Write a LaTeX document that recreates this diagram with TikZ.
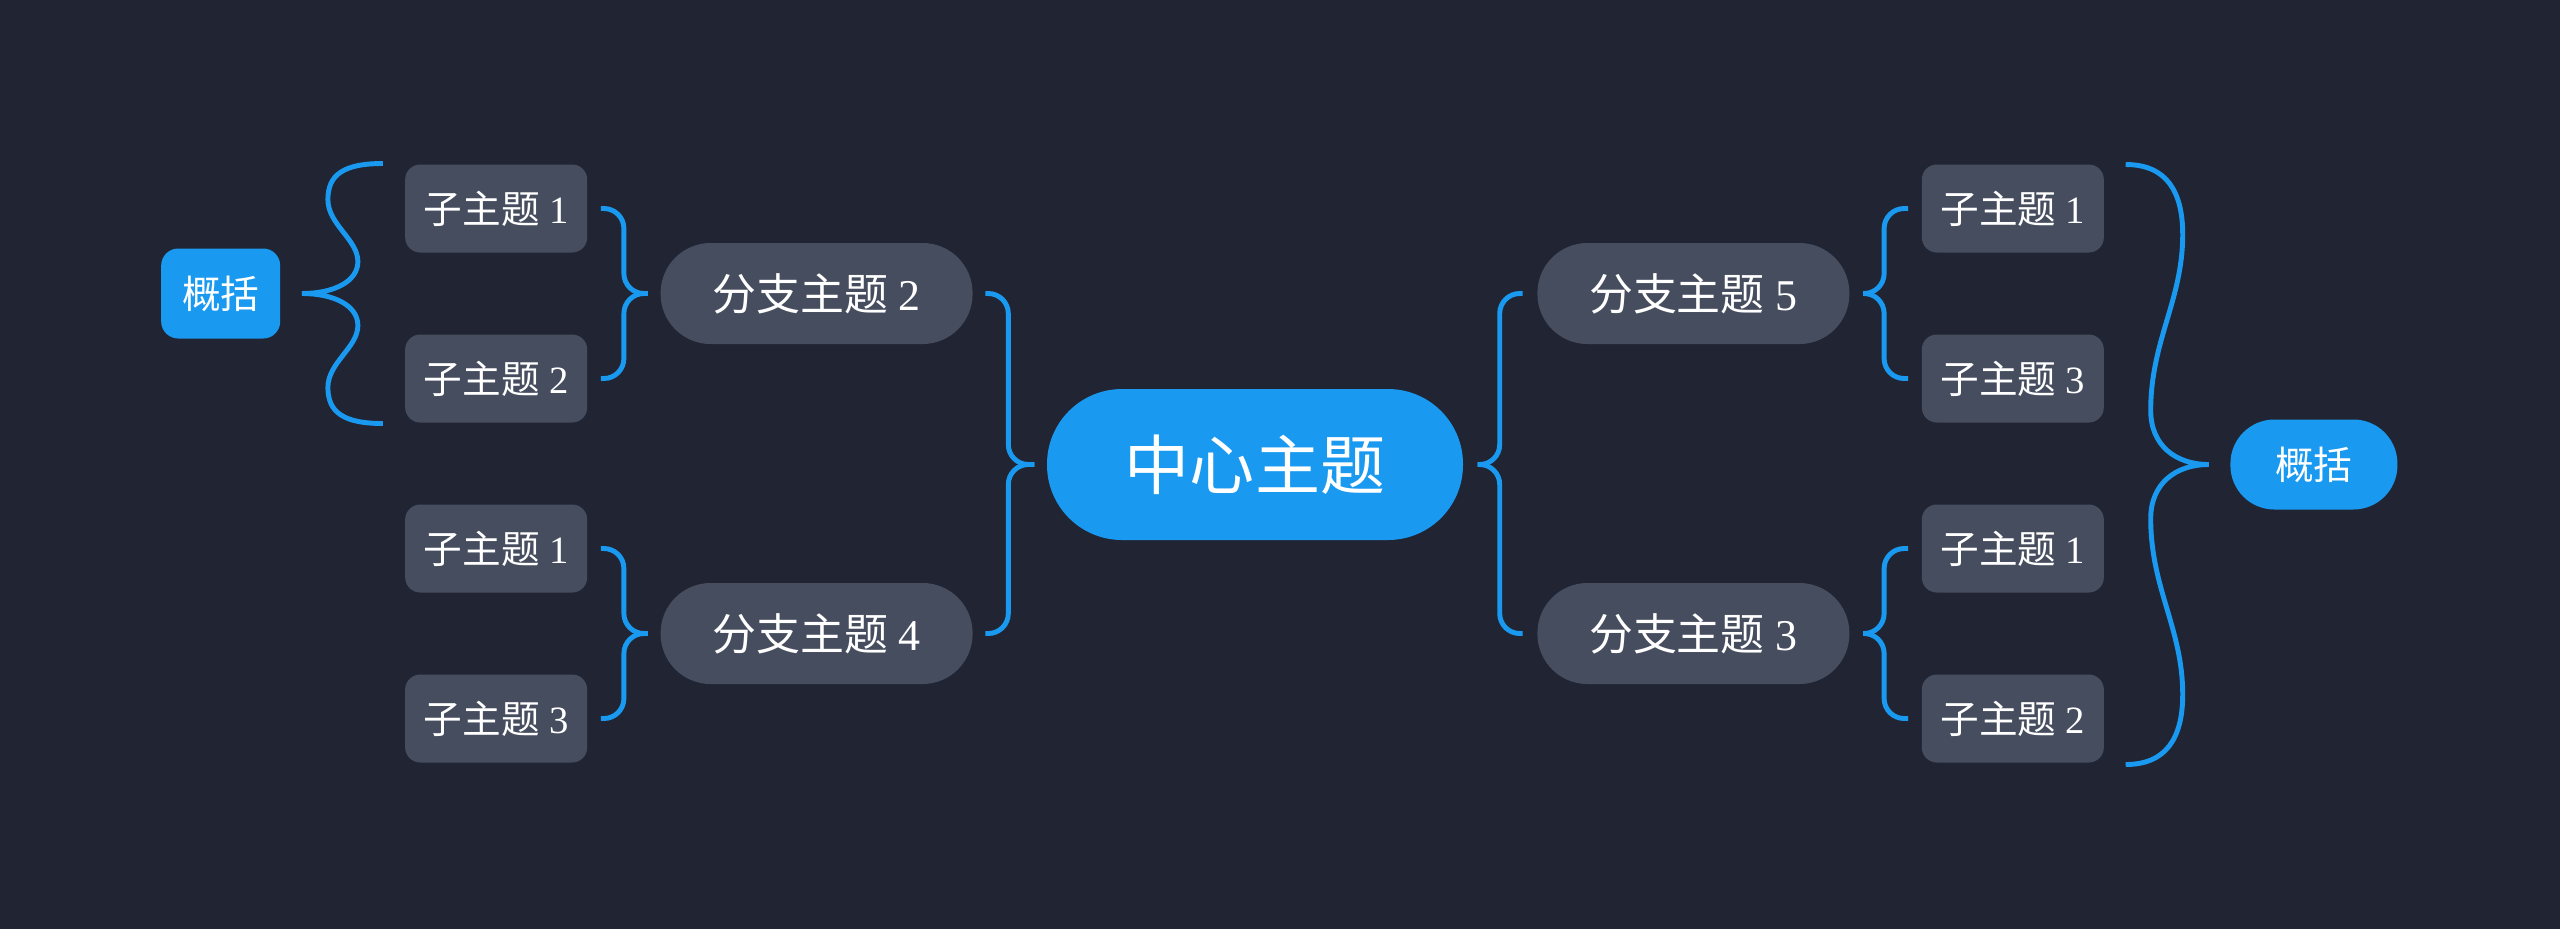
\documentclass[tikz,border=0pt]{standalone}
\usepackage{fontspec}
\setmainfont{Liberation Serif}
\newfontfamily\cjk{Noto Sans CJK SC}
\usepackage{tikz}
\usetikzlibrary{positioning, calc}
\definecolor{cBg}{RGB}{33,37,51}
\definecolor{cBlue}{RGB}{26,153,240}
\definecolor{cTopic}{RGB}{70,77,94}
\tikzset{
	central/.style ={rectangle, rounded corners=0.75cm, minimum width=4.16cm, minimum height=1.51cm, inner sep=0pt, fill=cBlue, text=white, font=\fontsize{18.5}{22}\selectfont\cjk},
	branch/.style  ={rectangle, rounded corners=0.5cm, minimum width=3.12cm, minimum height=1.01cm, inner sep=0pt, fill=cTopic, text=white, font=\fontsize{12.5}{15}\selectfont},
	subtopic/.style={rectangle, rounded corners=0.15cm, minimum width=1.82cm, minimum height=0.88cm, inner sep=0pt, fill=cTopic, text=white, font=\fontsize{11}{13}\selectfont},
	summary/.style ={rectangle, minimum height=0.9cm, inner sep=0pt, fill=cBlue, text=white, font=\fontsize{11}{13}\selectfont\cjk},
	% brace connectors
	brace/.style   ={draw=cBlue, line width=1.4pt, rounded corners=0.2cm},
	bigbrace/.style={draw=cBlue, line width=1.4pt},
}
\begin{document}
\begin{tikzpicture}
	\fill[cBg] (0,0) rectangle (25.6,-9.29);
	\node[central] (ctr) at (12.55,-4.645) {中心主题};
	% branches
	\node[branch, left=0.73cm of ctr, yshift=1.71cm] (b2) {{\cjk 分支主题} 2};
	\node[branch, left=0.73cm of ctr, yshift=-1.69cm] (b4) {{\cjk 分支主题} 4};
	\node[branch, right=0.73cm of ctr, yshift=1.71cm] (b5) {{\cjk 分支主题} 5};
	\node[branch, right=0.73cm of ctr, yshift=-1.69cm] (b3) {{\cjk 分支主题} 3};
	% subtopics
	\node[subtopic, left=0.72cm of b2, yshift=0.85cm] (s21) {{\cjk 子主题} 1};
	\node[subtopic, left=0.72cm of b2, yshift=-0.85cm] (s22) {{\cjk 子主题} 2};
	\node[subtopic, left=0.72cm of b4, yshift=0.85cm] (s41) {{\cjk 子主题} 1};
	\node[subtopic, left=0.72cm of b4, yshift=-0.85cm] (s43) {{\cjk 子主题} 3};
	\node[subtopic, right=0.71cm of b5, yshift=0.85cm] (s51) {{\cjk 子主题} 1};
	\node[subtopic, right=0.71cm of b5, yshift=-0.85cm] (s53) {{\cjk 子主题} 3};
	\node[subtopic, right=0.71cm of b3, yshift=0.85cm] (s31) {{\cjk 子主题} 1};
	\node[subtopic, right=0.71cm of b3, yshift=-0.85cm] (s32) {{\cjk 子主题} 2};
	% summaries
	\node[summary, rounded corners=0.17cm, minimum width=1.19cm, left=3.79cm of b2] (lsum) {概括};
	\node[summary, rounded corners=0.44cm, minimum width=1.67cm, right=7.66cm of ctr] (rsum) {概括};

	% center -> branches
	\draw[brace] ($(ctr.west)+(-0.12,0)$) -| ($(b2.east)+(0.35,0)$) -- ($(b2.east)+(0.12,0)$);
	\draw[brace] ($(ctr.west)+(-0.12,0)$) -| ($(b4.east)+(0.35,0)$) -- ($(b4.east)+(0.12,0)$);
	\draw[brace] ($(ctr.east)+(0.14,0)$) -| ($(b5.west)+(-0.37,0)$) -- ($(b5.west)+(-0.14,0)$);
	\draw[brace] ($(ctr.east)+(0.14,0)$) -| ($(b3.west)+(-0.37,0)$) -- ($(b3.west)+(-0.14,0)$);
	% branches -> subtopics
	\draw[brace] ($(b2.west)+(-0.12,0)$) -| ($(s21.east)+(0.36,0)$) -- ($(s21.east)+(0.13,0)$);
	\draw[brace] ($(b2.west)+(-0.12,0)$) -| ($(s22.east)+(0.36,0)$) -- ($(s22.east)+(0.13,0)$);
	\draw[brace] ($(b4.west)+(-0.12,0)$) -| ($(s41.east)+(0.36,0)$) -- ($(s41.east)+(0.13,0)$);
	\draw[brace] ($(b4.west)+(-0.12,0)$) -| ($(s43.east)+(0.36,0)$) -- ($(s43.east)+(0.13,0)$);
	\draw[brace] ($(b5.east)+(0.13,0)$) -| ($(s51.west)+(-0.37,0)$) -- ($(s51.west)+(-0.13,0)$);
	\draw[brace] ($(b5.east)+(0.13,0)$) -| ($(s53.west)+(-0.37,0)$) -- ($(s53.west)+(-0.13,0)$);
	\draw[brace] ($(b3.east)+(0.13,0)$) -| ($(s31.west)+(-0.37,0)$) -- ($(s31.west)+(-0.13,0)$);
	\draw[brace] ($(b3.east)+(0.13,0)$) -| ($(s32.west)+(-0.37,0)$) -- ($(s32.west)+(-0.13,0)$);

	% summary braces
	\coordinate (lt) at ($(lsum.east)+(0.21,0)$);
	\draw[bigbrace, shift={(lt)}] (0.81,1.30) .. controls (0.42,1.30) and (0.26,1.19) .. (0.26,0.94)
		.. controls (0.26,0.69) and (0.56,0.54) .. (0.56,0.32) .. controls (0.56,0.12) and (0.32,0) .. (0,0)
		.. controls (0.32,0) and (0.56,-0.12) .. (0.56,-0.32) .. controls (0.56,-0.54) and (0.26,-0.69) .. (0.26,-0.94)
		.. controls (0.26,-1.19) and (0.42,-1.30) .. (0.81,-1.30);
	\coordinate (rt) at ($(rsum.west)+(-0.21,0)$);
	\draw[bigbrace, shift={(rt)}] (-0.83,3.00) .. controls (-0.43,3.00) and (-0.26,2.74) .. (-0.26,2.30)
		.. controls (-0.26,1.64) and (-0.58,1.24) .. (-0.58,0.54) .. controls (-0.58,0.19) and (-0.33,0) .. (0,0)
		.. controls (-0.33,0) and (-0.58,-0.19) .. (-0.58,-0.54) .. controls (-0.58,-1.24) and (-0.26,-1.64) .. (-0.26,-2.30)
		.. controls (-0.26,-2.74) and (-0.43,-3.00) .. (-0.83,-3.00);
\end{tikzpicture}
\end{document}
